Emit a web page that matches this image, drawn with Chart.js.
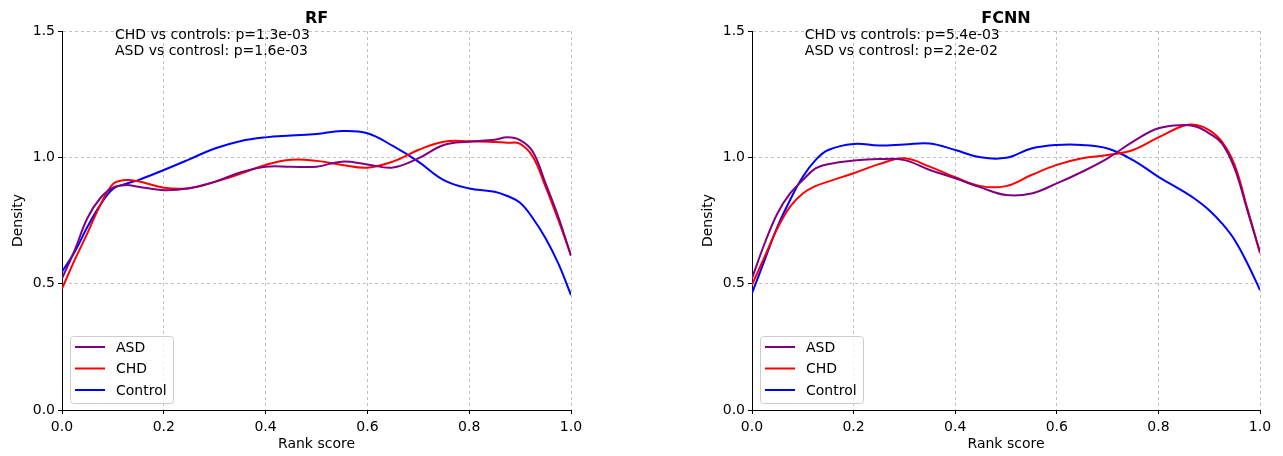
<!DOCTYPE html>
<html>
<head>
<meta charset="utf-8">
<script src="https://cdn.jsdelivr.net/npm/chart.js@4.4.0/dist/chart.umd.min.js"></script>
<style>
  body { margin: 0; background: #fff; }
  #wrap { position: relative; width: 1283px; height: 456px; }
  canvas { position: absolute; top: 0; }
</style>
</head>
<body>
<div id="wrap">
  <canvas id="rf" width="641" height="456" style="left:0"></canvas>
  <canvas id="fcnn" width="642" height="456" style="left:641px"></canvas>
</div>
<script>
// rank score positions where the density curves were read
const rankScore = [0, 0.025, 0.05, 0.075, 0.1, 0.125, 0.15, 0.2, 0.25, 0.3, 0.35, 0.4, 0.45,
  0.5, 0.55, 0.6, 0.65, 0.7, 0.75, 0.8, 0.85, 0.875, 0.9, 0.925, 0.95, 0.975, 1.0];

const rfASD = [0.52, 0.633, 0.76, 0.838, 0.88, 0.89, 0.884, 0.87, 0.878, 0.903, 0.94, 0.963, 0.963,
  0.963, 0.983, 0.972, 0.96, 0.996, 1.049, 1.062, 1.07, 1.079, 1.068, 1.022, 0.897, 0.765, 0.61];
const rfCHD = [0.48, 0.594, 0.70, 0.81, 0.894, 0.91, 0.905, 0.88, 0.878, 0.903, 0.935, 0.97, 0.99,
  0.986, 0.97, 0.959, 0.983, 1.029, 1.062, 1.064, 1.061, 1.058, 1.053, 1.002, 0.884, 0.752, 0.613];
const rfControl = [0.547, 0.626, 0.725, 0.811, 0.875, 0.895, 0.91, 0.95, 0.992, 1.035, 1.064, 1.079, 1.086,
  1.092, 1.104, 1.095, 1.045, 0.983, 0.91, 0.877, 0.864, 0.847, 0.82, 0.759, 0.68, 0.58, 0.455];

const fcASD = [0.521, 0.66, 0.778, 0.857, 0.91, 0.956, 0.973, 0.987, 0.993, 0.989, 0.95, 0.917, 0.881,
  0.851, 0.857, 0.897, 0.943, 0.996, 1.062, 1.115, 1.128, 1.121, 1.095, 1.055, 0.956, 0.791, 0.625];
const fcCHD = [0.495, 0.607, 0.719, 0.805, 0.857, 0.886, 0.904, 0.937, 0.973, 0.996, 0.963, 0.921, 0.886,
  0.886, 0.93, 0.97, 0.996, 1.009, 1.029, 1.079, 1.125, 1.128, 1.108, 1.062, 0.97, 0.798, 0.62];
const fcControl = [0.462, 0.594, 0.725, 0.831, 0.923, 0.989, 1.029, 1.053, 1.047, 1.051, 1.055, 1.029, 1.0,
  0.998, 1.035, 1.049, 1.049, 1.035, 0.989, 0.923, 0.864, 0.831, 0.791, 0.739, 0.673, 0.581, 0.475];

const groups = ['ASD', 'CHD', 'Control'];
const groupColors = ['#800080', '#ff0000', '#0000ff'];

const rfNotes = ['CHD vs controls: p=1.3e-03', 'ASD vs controsl: p=1.6e-03'];
const fcNotes = ['CHD vs controls: p=5.4e-03', 'ASD vs controsl: p=2.2e-02'];

const FONT = 'DejaVu Sans';

// title, p-value text and the boxed legend inside the plot
const decorations = {
  id: 'decorations',
  afterDraw(chart, args, opts) {
    const { ctx, chartArea: a } = chart;
    ctx.save();
    ctx.fillStyle = '#000';
    ctx.textAlign = 'center';
    ctx.textBaseline = 'alphabetic';
    ctx.font = 'bold 16px "' + FONT + '"';
    ctx.fillText(opts.title, (a.left + a.right) / 2, 23);

    ctx.textAlign = 'left';
    ctx.font = '14px "' + FONT + '"';
    const nx = chart.scales.x.getPixelForValue(0.104);
    opts.notes.forEach((t, i) => ctx.fillText(t, nx, a.top + 8 + i * 16));

    // legend
    const bx = a.left + 8, by = a.bottom - 74, bw = 103, bh = 67;
    ctx.beginPath();
    ctx.roundRect(bx + 0.5, by + 0.5, bw, bh, 3);
    ctx.fillStyle = 'rgba(255,255,255,0.8)';
    ctx.fill();
    ctx.strokeStyle = '#cccccc';
    ctx.lineWidth = 1;
    ctx.stroke();
    ctx.textBaseline = 'middle';
    chart.data.datasets.forEach((ds, i) => {
      const ry = by + 11 + i * 21.5;
      ctx.beginPath();
      ctx.moveTo(bx + 5, ry);
      ctx.lineTo(bx + 35, ry);
      ctx.strokeStyle = ds.borderColor;
      ctx.lineWidth = 2;
      ctx.stroke();
      ctx.fillStyle = '#000';
      ctx.fillText(ds.label, bx + 46, ry + 1);
    });
    ctx.restore();
  }
};

function makeChart(id, title, notes, series, padLeft, padRight) {
  new Chart(document.getElementById(id), {
    type: 'line',
    data: {
      datasets: series.map((vals, i) => ({
        label: groups[i],
        data: rankScore.map((x, j) => ({ x: x, y: vals[j] })),
        borderColor: groupColors[i],
        borderWidth: 2,
        pointRadius: 0,
        fill: false,
        tension: 0.4
      }))
    },
    options: {
      responsive: false,
      animation: false,
      devicePixelRatio: 1,
      layout: { padding: { left: padLeft, right: padRight, top: 31, bottom: 0 } },
      plugins: {
        legend: { display: false },
        tooltip: { enabled: false },
        decorations: { title: title, notes: notes }
      },
      scales: {
        x: {
          type: 'linear',
          min: 0,
          max: 1,
          afterFit: s => { s.height = 46; },
          ticks: {
            stepSize: 0.2,
            padding: 5,
            color: '#000',
            font: { family: FONT, size: 14 },
            maxRotation: 0,
            callback: v => v.toFixed(1)
          },
          grid: { color: '#b0b0b0', lineWidth: 0.8, tickColor: '#000', tickLength: 4, tickWidth: 1, tickBorderDash: [] },
          border: { display: true, color: '#000', width: 1, dash: [3, 3] },
          title: { display: true, text: 'Rank score', color: '#000', font: { family: FONT, size: 14 }, padding: { top: 0, bottom: 3 } }
        },
        y: {
          min: 0,
          max: 1.5,
          afterFit: s => { s.width = 62; },
          ticks: {
            stepSize: 0.5,
            padding: 3,
            color: '#000',
            font: { family: FONT, size: 14 },
            callback: v => v.toFixed(1)
          },
          grid: { color: '#b0b0b0', lineWidth: 0.8, tickColor: '#000', tickLength: 4, tickWidth: 1, tickBorderDash: [] },
          border: { display: true, color: '#000', width: 1, dash: [3, 3] },
          title: { display: true, text: 'Density', color: '#000', font: { family: FONT, size: 14 }, padding: { top: 10, bottom: 0 } }
        }
      }
    },
    plugins: [decorations]
  });
}

makeChart('rf', 'RF', rfNotes, [rfASD, rfCHD, rfControl], 0, 70);
makeChart('fcnn', 'FCNN', fcNotes, [fcASD, fcCHD, fcControl], 49, 23);
</script>
</body>
</html>
